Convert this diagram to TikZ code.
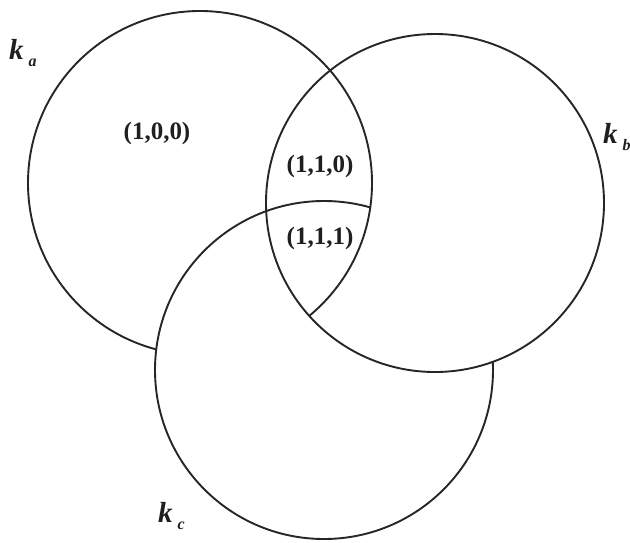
\documentclass[tikz,border=0pt]{standalone}
\usepackage{fontspec}
\setmainfont{Liberation Serif}
\newcommand{\setsub}[1]{\hspace{5pt}\raisebox{-7pt}{\fontsize{16}{16}\selectfont #1}}
\begin{document}
\begin{tikzpicture}[x=1pt,y=-1pt,
  ring/.style={draw=black!85,line width=1.9pt},
  region/.style={font=\fontsize{25}{25}\selectfont\bfseries,text=black!88,inner sep=0pt},
  setlabel/.style={anchor=base west,inner sep=0pt,text=black!88,font=\fontsize{29}{29}\selectfont\bfseries\itshape}]
\useasboundingbox (0,0) rectangle (630,542);
\def\circA{(200,183) circle (172)}
\def\circB{(435,203) circle (169)}
\def\circC{(324,370) circle (169)}
% A
\path[ring] \circA;
% C over A
\path[ring,fill=white] \circC;
% B over both
\path[ring,fill=white] \circB;
% restore A inside B
\begin{scope}
  \clip \circB;
  \path[ring] \circA;
\end{scope}
% restore C inside A and B
\begin{scope}
  \clip \circB;
  \clip \circA;
  \path[ring] \circC;
\end{scope}
\node[region] (r100) at (157,133) {(1,0,0)};
\node[region] (r110) at (320,166) {(1,1,0)};
\node[region] (r111) at (320,238) {(1,1,1)};
\node[setlabel] (ka) at (9,59) {k\setsub{a}};
\node[setlabel] (kb) at (603,143) {k\setsub{b}};
\node[setlabel] (kc) at (158,522) {k\setsub{c}};
\end{tikzpicture}
\end{document}
